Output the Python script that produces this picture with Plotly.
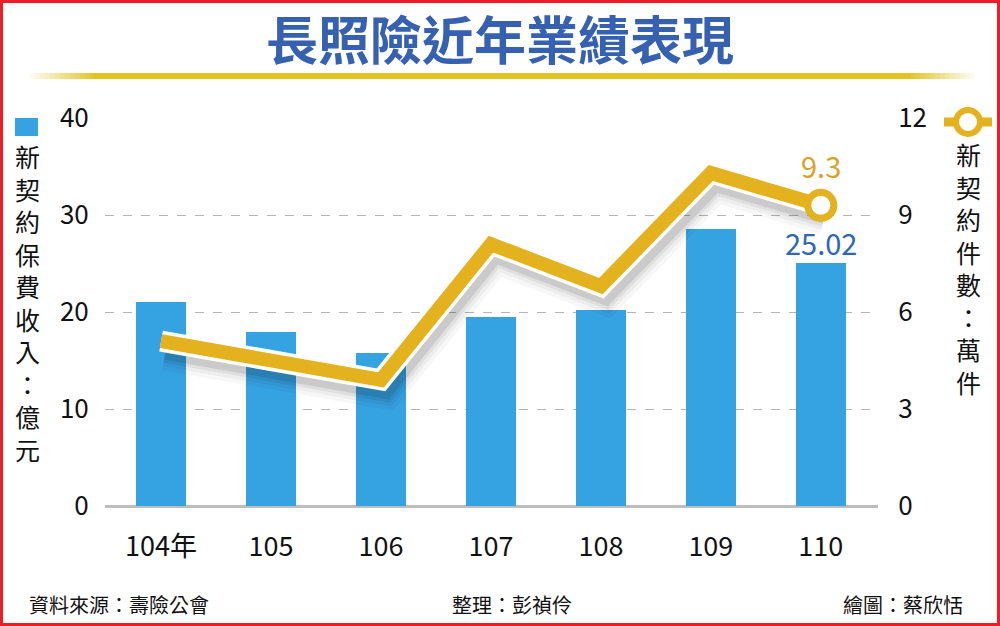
import plotly.graph_objects as go

# data
years = ['104年', '105', '106', '107', '108', '109', '110']
premium = [21.0, 17.9, 15.8, 19.5, 20.2, 28.6, 25.02]   # 億元, left axis
policies = [5.1, 4.5, 3.9, 8.1, 6.8, 10.3, 9.3]        # 萬件, right axis

BLUE = '#35a2e2'
GOLD = '#e3b21e'
TITLE_BLUE = '#3561b0'
CJK = 'Noto Sans CJK TC'
NUM = 'Liberation Sans Narrow, Noto Sans CJK TC'

# plot area in page pixels
L, R, T, B = 105, 878, 118, 506


def px_x(p):
    return (p - L) / (R - L)


def px_y(p):
    return (B - p) / (B - T)


def note(fig, x, y, text, size, color='#111', family=CJK, anchor='center', weight='normal'):
    fig.add_annotation(xref='paper', yref='paper', x=px_x(x), y=px_y(y), text=text,
                       showarrow=False, xanchor=anchor, yanchor='middle',
                       font=dict(family=family, size=size, color=color, weight=weight))


xs = list(range(len(years)))

fig = go.Figure()
fig.add_trace(go.Bar(x=xs, y=premium, width=0.45, marker_color=BLUE,
                     marker_line_width=0, yaxis='y'))

# soft drop shadow under the line
for w, a in [(38, 0.03), (30, 0.04), (23, 0.06), (17, 0.09)]:
    fig.add_trace(go.Scatter(x=[v + 0.04 for v in xs], y=[v - 0.32 for v in policies],
                             mode='lines', yaxis='y2',
                             line=dict(color=f'rgba(0,0,0,{a})', width=w)))
fig.add_trace(go.Scatter(x=xs, y=policies, mode='lines', yaxis='y2',
                         line=dict(color='white', width=21)))
fig.add_trace(go.Scatter(x=xs, y=policies, mode='lines', yaxis='y2',
                         line=dict(color=GOLD, width=14)))
fig.add_trace(go.Scatter(x=[xs[-1]], y=[policies[-1]], mode='markers', yaxis='y2',
                         marker=dict(size=26, color='white',
                                     line=dict(color=GOLD, width=7))))

fig.update_layout(
    width=1000, height=626,
    margin=dict(l=L, r=1000 - R, t=T, b=626 - B),
    paper_bgcolor='white', plot_bgcolor='white',
    showlegend=False, bargap=0,
    xaxis=dict(range=[-0.51, 6.52], tickvals=xs, ticktext=years,
               showgrid=False, zeroline=False, showline=False,
               ticks='outside', ticklen=17, tickcolor='rgba(0,0,0,0)',
               tickfont=dict(family=NUM, size=27, color='#111')),
    yaxis=dict(range=[0, 40], dtick=10, showgrid=True, gridcolor='#b5b5b5',
               griddash='dash', gridwidth=1, zeroline=True, zerolinecolor='#bdbdbd',
               zerolinewidth=3, ticks='outside', ticklen=10,
               tickcolor='rgba(0,0,0,0)',
               tickfont=dict(family=NUM, size=26, color='#111')),
    yaxis2=dict(range=[0, 12], dtick=3, overlaying='y', side='right',
                showgrid=False, zeroline=False, ticks='outside', ticklen=14,
                tickcolor='rgba(0,0,0,0)',
                tickfont=dict(family=NUM, size=26, color='#111')),
)

# value labels on the last year
fig.add_annotation(x=xs[-1], y=policies[-1], yref='y2', text='9.3', showarrow=False,
                   yshift=40, font=dict(family=NUM, size=29, color='#d9a227'))
fig.add_annotation(x=xs[-1], y=premium[-1], yref='y', text='25.02', showarrow=False,
                   yshift=21, font=dict(family=NUM, size=29, color='#2f67b3'))

# title
note(fig, 500, 37, '長照險近年業績表現', 52, TITLE_BLUE, weight=600)

# yellow rule under the title, fading at both ends
shapes = [dict(type='line', xref='paper', yref='paper', x0=px_x(94), x1=px_x(911),
               y0=px_y(76), y1=px_y(76), line=dict(color='#e2c21e', width=6))]
for i in range(13):
    a = (i + 1) / 14
    shapes.append(dict(type='line', xref='paper', yref='paper',
                       x0=px_x(30 + i * 5), x1=px_x(35 + i * 5), y0=px_y(76), y1=px_y(76),
                       line=dict(color=f'rgba(226,194,30,{a:.2f})', width=6)))
    shapes.append(dict(type='line', xref='paper', yref='paper',
                       x0=px_x(970 - i * 5), x1=px_x(975 - i * 5), y0=px_y(76), y1=px_y(76),
                       line=dict(color=f'rgba(226,194,30,{a:.2f})', width=6)))

# left legend key
shapes.append(dict(type='rect', xref='paper', yref='paper', x0=px_x(15), x1=px_x(38),
                   y0=px_y(136), y1=px_y(118), fillcolor=BLUE, line_width=0))
# right legend key
shapes.append(dict(type='line', xref='paper', yref='paper', x0=px_x(944), x1=px_x(992),
                   y0=px_y(122), y1=px_y(122), line=dict(color=GOLD, width=9)))
shapes.append(dict(type='circle', xref='paper', yref='paper', x0=px_x(956), x1=px_x(980),
                   y0=px_y(134), y1=px_y(110), fillcolor='white',
                   line=dict(color=GOLD, width=6)))
# red frame
shapes.append(dict(type='rect', xref='paper', yref='paper', x0=px_x(1.5), x1=px_x(998.5),
                   y0=px_y(624.5), y1=px_y(1.5), line=dict(color='#ee1c24', width=3)))
fig.update_layout(shapes=shapes)

# vertical axis titles, one character per line
note(fig, 27, 302, '<br>'.join('新契約保費收入：億元'), 25)
note(fig, 968, 268, '<br>'.join('新契約件數：萬件'), 25)

# footer
note(fig, 27, 604, '資料來源：壽險公會', 20, anchor='left')
note(fig, 512, 604, '整理：彭禎伶', 20)
note(fig, 965, 604, '繪圖：蔡欣恬', 20, anchor='right')

fig.write_html("out.html", config={'displayModeBar': False},
               post_script="document.body.style.margin='0px';")
